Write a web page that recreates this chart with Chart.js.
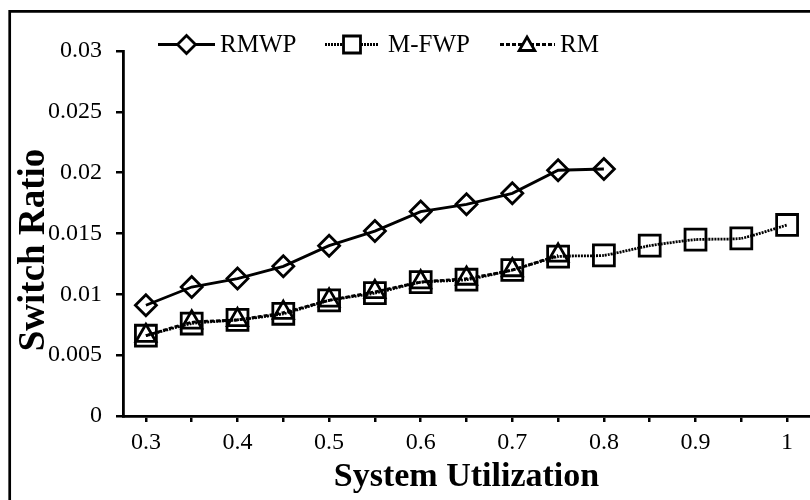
<!DOCTYPE html>
<html>
<head>
<meta charset="utf-8">
<script src="https://cdn.jsdelivr.net/npm/chart.js@4"></script>
<style>
  html, body { margin: 0; padding: 0; background: #fff; }
  #wrap { position: relative; width: 810px; height: 500px; overflow: hidden; }
</style>
</head>
<body>
<div id="wrap"><canvas id="chart" width="810" height="500"></canvas></div>
<script>
const utilization = ['0.3', '0.35', '0.4', '0.45', '0.5', '0.55', '0.6', '0.65', '0.7', '0.75', '0.8', '0.85', '0.9', '0.95', '1'];
const rmwp = [0.0091, 0.0106, 0.0113, 0.0123, 0.0140, 0.0152, 0.0168, 0.0174, 0.0183, 0.0202, 0.0203];
const mfwp = [0.0066, 0.0076, 0.0079, 0.0084, 0.0095, 0.0101, 0.0110, 0.0112, 0.0120, 0.0131, 0.0132, 0.0140, 0.0145, 0.0146, 0.0157];
const rm = [0.0066, 0.0077, 0.0079, 0.0085, 0.0095, 0.0102, 0.0110, 0.0113, 0.0120, 0.0132];
const yTicks = [0, 0.005, 0.01, 0.015, 0.02, 0.025, 0.03];

const serif = '"Liberation Serif", "Times New Roman", serif';

const series = [
  { label: 'RMWP', data: rmwp, pointStyle: 'rectRot', radius: 10.5, dash: [], tension: 0 },
  { label: 'M-FWP', data: mfwp, pointStyle: 'rect', radius: 14.8, dash: [2, 1], tension: 0.15 },
  { label: 'RM', data: rm, pointStyle: 'triangle', radius: 11.5, dash: [4, 2], tension: 0.15 },
];

// frame around the figure (only the top and left edges fall inside the page)
const framePlugin = {
  id: 'frame',
  beforeDraw(chart) {
    const ctx = chart.ctx;
    ctx.save();
    ctx.fillStyle = '#fff';
    ctx.fillRect(0, 0, chart.width, chart.height);
    ctx.strokeStyle = '#000';
    ctx.lineWidth = 2.7;
    ctx.beginPath();
    ctx.moveTo(9.7, chart.height);
    ctx.lineTo(9.7, 11.3);
    ctx.lineTo(chart.width, 11.3);
    ctx.stroke();
    ctx.restore();
  }
};

// vertical axis name, drawn rotated next to the tick labels
const yTitlePlugin = {
  id: 'yTitle',
  afterDraw(chart) {
    const ctx = chart.ctx;
    ctx.save();
    ctx.translate(34, 250);
    ctx.rotate(-Math.PI / 2);
    ctx.fillStyle = '#000';
    ctx.font = 'bold 37px ' + serif;
    ctx.textAlign = 'center';
    ctx.textBaseline = 'middle';
    ctx.fillText('Switch Ratio', 0, 0);
    ctx.restore();
  }
};

// legend in one row: line sample with its marker, then the name
const legendPlugin = {
  id: 'lineLegend',
  afterDraw(chart) {
    const ctx = chart.ctx;
    const items = [
      { x0: 158, x1: 215, mx: 186.5, tx: 220 },
      { x0: 325, x1: 378, mx: 352, tx: 388 },
      { x0: 500, x1: 555, mx: 527, tx: 560 },
    ];
    const y = 44.5;
    ctx.save();
    items.forEach((it, i) => {
      const s = series[i];
      ctx.strokeStyle = '#000';
      ctx.lineWidth = 2.8;
      ctx.setLineDash(s.dash);
      ctx.beginPath();
      ctx.moveTo(it.x0, y);
      ctx.lineTo(it.x1, y);
      ctx.stroke();
      ctx.setLineDash([]);
      ctx.fillStyle = '#fff';
      ctx.lineWidth = 2.8;
      Chart.helpers.drawPoint(ctx, {
        pointStyle: s.pointStyle,
        radius: s.pointStyle === 'rect' ? 12 : 9,
        rotation: 0,
        borderWidth: 2.8
      }, it.mx, s.pointStyle === 'triangle' ? y + 1.5 : y);
      ctx.fillStyle = '#000';
      ctx.font = '25px ' + serif;
      ctx.textBaseline = 'middle';
      ctx.textAlign = 'left';
      ctx.fillText(s.label, it.tx, y + 1);
    });
    ctx.restore();
  }
};

new Chart(document.getElementById('chart'), {
  type: 'line',
  data: {
    labels: utilization,
    datasets: series.map((s) => ({
      label: s.label,
      data: s.data,
      borderColor: '#000',
      borderWidth: 2.8,
      borderDash: s.dash,
      tension: s.tension,
      pointStyle: s.pointStyle,
      pointRadius: s.radius,
      pointBorderWidth: 2.8,
      pointBorderColor: '#000',
      pointBackgroundColor: 'rgba(0,0,0,0)',
      fill: false,
    })),
  },
  options: {
    responsive: false,
    animation: false,
    layout: { autoPadding: false, padding: { top: 51, right: 0, bottom: 0, left: 0 } },
    plugins: {
      legend: { display: false },
      tooltip: { enabled: false },
    },
    scales: {
      x: {
        type: 'category',
        offset: true,
        afterFit(scale) {
          scale.height = 84;
          scale.paddingLeft = 0;
          scale.paddingRight = 0;
        },
        border: { color: '#000', width: 2.8 },
        grid: { drawOnChartArea: false, drawTicks: true, tickLength: 6, color: '#000', lineWidth: 2.5, offset: false },
        ticks: {
          autoSkip: false,
          maxRotation: 0,
          color: '#000',
          padding: 6,
          font: { family: serif, size: 24 },
          callback(value, index) { return index % 2 === 0 ? utilization[index] : ''; },
        },
        title: {
          display: true,
          text: 'System Utilization',
          color: '#000',
          font: { family: serif, size: 34, weight: 'bold' },
          padding: { top: 0, bottom: 2 },
        },
      },
      y: {
        min: 0,
        max: 0.03,
        afterFit(scale) { scale.width = 123; },
        afterBuildTicks(scale) { scale.ticks = yTicks.map((v) => ({ value: v })); },
        border: { color: '#000', width: 2.8 },
        grid: { drawOnChartArea: false, drawTicks: true, tickLength: 7, color: '#000', lineWidth: 2.5 },
        ticks: {
          color: '#000',
          padding: 14,
          font: { family: serif, size: 24 },
          callback(value) { return String(Math.round(value * 1000) / 1000); },
        },
      },
    },
  },
  plugins: [framePlugin, yTitlePlugin, legendPlugin],
});
</script>
</body>
</html>
